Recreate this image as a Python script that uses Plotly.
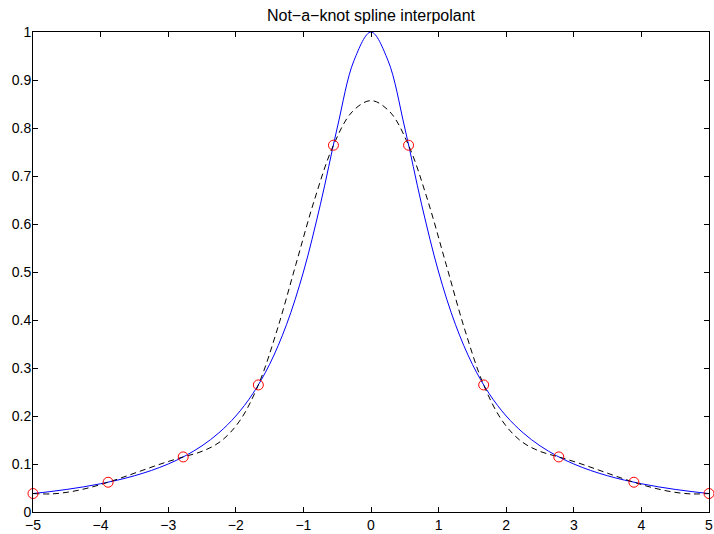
import plotly.graph_objects as go

# Interpolation nodes (10 equally spaced points on [-5, 5])
node_x = [-5.0, -3.888889, -2.777778, -1.666667, -0.555556,
          0.555556, 1.666667, 2.777778, 3.888889, 5.0]
node_y = [0.038462, 0.062021, 0.114731, 0.264706, 0.764151,
          0.764151, 0.264706, 0.114731, 0.062021, 0.038462]

# True function (solid blue), sampled every 0.25
true_x = [-5.0, -4.75, -4.5, -4.25, -4.0, -3.75, -3.5, -3.25, -3.0, -2.75,
          -2.5, -2.25, -2.0, -1.75, -1.5, -1.25, -1.0, -0.75, -0.5, -0.25,
          0.0, 0.25, 0.5, 0.75, 1.0, 1.25, 1.5, 1.75, 2.0, 2.25,
          2.5, 2.75, 3.0, 3.25, 3.5, 3.75, 4.0, 4.25, 4.5, 4.75, 5.0]
true_y = [0.038462, 0.042440, 0.047059, 0.052459, 0.058824, 0.066390, 0.075472,
          0.086486, 0.100000, 0.116788, 0.137931, 0.164948, 0.200000, 0.246154,
          0.307692, 0.390244, 0.500000, 0.640000, 0.800000, 0.941176,
          1.000000,
          0.941176, 0.800000, 0.640000, 0.500000, 0.390244, 0.307692, 0.246154,
          0.200000, 0.164948, 0.137931, 0.116788, 0.100000, 0.086486, 0.075472,
          0.066390, 0.058824, 0.052459, 0.047059, 0.042440, 0.038462]

# Not-a-knot spline interpolant (dashed black)
spline_x = [-5.0, -4.722222, -4.444444, -4.166667, -3.888889, -3.611111, -3.333333,
            -3.055556, -2.777778, -2.5, -2.222222, -1.944444, -1.666667, -1.388889,
            -1.111111, -0.833333, -0.555556, -0.277778, 0.0, 0.277778, 0.555556,
            0.833333, 1.111111, 1.388889, 1.666667, 1.944444, 2.222222, 2.5,
            2.777778, 3.055556, 3.333333, 3.611111, 3.888889, 4.166667, 4.444444,
            4.722222, 5.0]
spline_y = [0.038462, 0.037755, 0.042182, 0.050639, 0.062021, 0.075226, 0.089148,
            0.102683, 0.114731, 0.126352, 0.147286, 0.189435, 0.264706, 0.379209,
            0.515866, 0.651803, 0.764151, 0.833846, 0.857078, 0.833846, 0.764151,
            0.651803, 0.515866, 0.379209, 0.264706, 0.189435, 0.147286, 0.126352,
            0.114731, 0.102683, 0.089148, 0.075226, 0.062021, 0.050639, 0.042182,
            0.037755, 0.038462]

x_ticks = [-5, -4, -3, -2, -1, 0, 1, 2, 3, 4, 5]
x_ticklabels = ["\u22125", "\u22124", "\u22123", "\u22122", "\u22121", "0",
                "1", "2", "3", "4", "5"]
y_ticks = [0, 0.1, 0.2, 0.3, 0.4, 0.5, 0.6, 0.7, 0.8, 0.9, 1]
y_ticklabels = ["0", "0.1", "0.2", "0.3", "0.4", "0.5", "0.6", "0.7", "0.8", "0.9", "1"]

fig = go.Figure()
fig.add_trace(go.Scatter(x=true_x, y=true_y, mode="lines",
                         line=dict(color="#0000ff", width=1, shape="spline"),
                         showlegend=False, hoverinfo="skip"))
fig.add_trace(go.Scatter(x=spline_x, y=spline_y, mode="lines",
                         line=dict(color="black", width=1, dash="6px,4px", shape="spline"),
                         showlegend=False, hoverinfo="skip"))
fig.add_trace(go.Scatter(x=node_x, y=node_y, mode="markers",
                         marker=dict(symbol="circle-open", color="#ff0000", size=10,
                                     line=dict(width=1, color="#ff0000")),
                         cliponaxis=False, showlegend=False))

axis_common = dict(showgrid=False, zeroline=False, showline=True, linecolor="black",
                   linewidth=1, mirror="ticks", ticks="inside", ticklen=5,
                   tickcolor="black", tickwidth=1, automargin=False,
                   ticklabeloverflow="allow",
                   tickfont=dict(family="Liberation Sans, Arial, sans-serif",
                                 size=14, color="black"))

fig.update_layout(
    width=714, height=534,
    margin=dict(l=33, r=5, t=32, b=22, autoexpand=False),
    paper_bgcolor="white", plot_bgcolor="white",
    title=dict(text="Not\u2212a\u2212knot spline interpolant", x=0.5 * (33 + 709) / 714,
               xanchor="center", y=1 - 15 / 534, yanchor="middle",
               font=dict(family="Liberation Sans, Arial, sans-serif", size=16, color="black")),
    xaxis=dict(range=[-5, 5], tickvals=x_ticks, ticktext=x_ticklabels, **axis_common),
    yaxis=dict(range=[0, 1], tickvals=y_ticks, ticktext=y_ticklabels,
               ticklabelstandoff=-2, **axis_common),
)

# remove the default page margin so the figure fills the window exactly
fig.write_html("out.html",
               config={"displayModeBar": False},
               post_script="document.body.style.margin='0';document.body.style.overflow='hidden';")
